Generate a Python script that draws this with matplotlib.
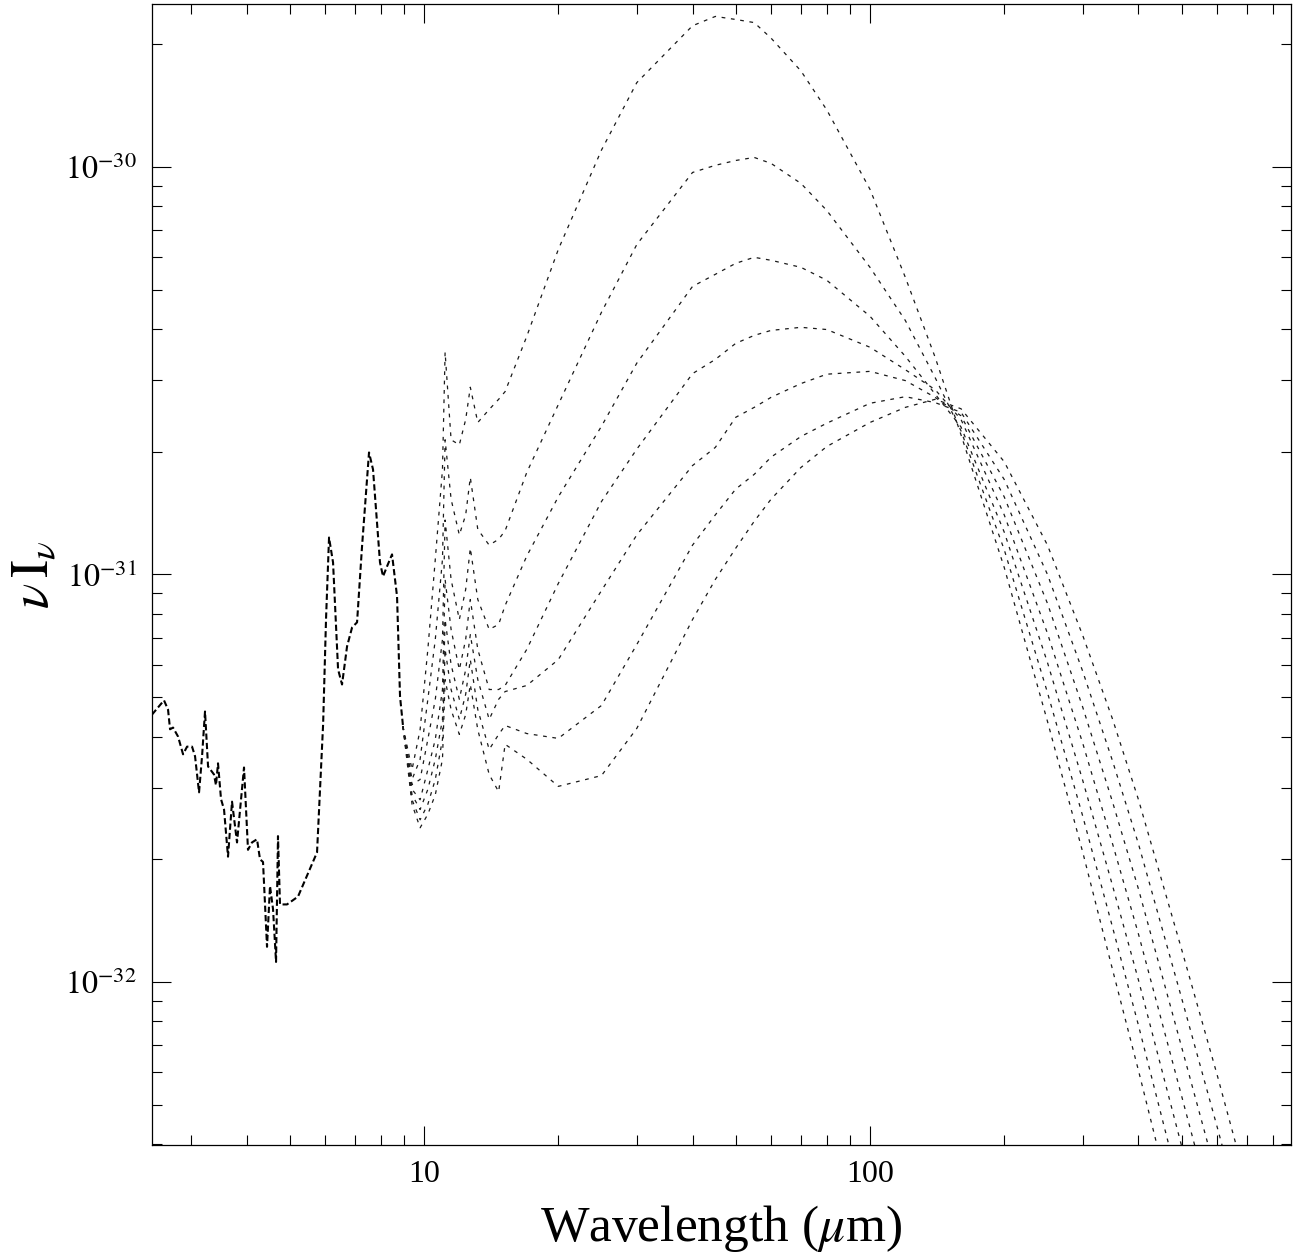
import numpy as np
import matplotlib.pyplot as plt

plt.rcParams['font.family'] = ['Liberation Serif', 'DejaVu Serif']
plt.rcParams['mathtext.fontset'] = 'stix'

UNIT = 1e-31  # fluxes below are in units of 1e-31

# shared short-wavelength spectrum (microns)
lam_short = [2.455, 2.612, 2.667, 2.695, 2.737, 2.809, 2.882, 2.942, 3.019, 3.066,
             3.130, 3.179, 3.228, 3.279, 3.381, 3.416, 3.452, 3.506, 3.561, 3.635,
             3.711, 3.808, 3.948, 4.030, 4.114, 4.222, 4.288, 4.355, 4.446, 4.515,
             4.586, 4.658, 4.705, 4.754, 4.929, 5.217, 5.756, 5.94, 6.03, 6.124,
             6.252, 6.416, 6.549, 6.721, 6.897, 7.077, 7.261, 7.528, 7.685, 7.967,
             8.093, 8.260, 8.478, 8.700, 8.835, 8.973]
flux_short = [0.453, 0.491, 0.466, 0.417, 0.421, 0.400, 0.362, 0.378, 0.378, 0.358,
              0.292, 0.358, 0.461, 0.338, 0.323, 0.304, 0.344, 0.281, 0.265, 0.203,
              0.277, 0.220, 0.336, 0.211, 0.220, 0.224, 0.200, 0.197, 0.122, 0.172,
              0.151, 0.112, 0.228, 0.155, 0.155, 0.162, 0.208, 0.43, 0.78, 1.232,
              1.070, 0.585, 0.537, 0.666, 0.741, 0.763, 1.171, 1.992, 1.810, 1.070,
              0.989, 1.046, 1.120, 0.883, 0.502, 0.424]

# model curves beyond ~9 micron
lam_long = [8.97, 9.4, 9.8, 10.2, 10.6, 11.0, 11.15, 11.5, 12.0, 12.4, 12.7, 13.2,
            14.0, 14.7, 15.2, 17, 20, 25, 30, 40, 45, 50, 55, 60, 70, 80, 100,
            120, 140, 160, 200, 250, 300, 350, 400, 500, 600, 700, 800]

model_a = [0.424, 0.332, 0.416, 0.655, 1.09, 1.81, 3.51, 2.14, 2.08, 2.40, 2.88, 2.36,
           2.54, 2.69, 2.81, 3.84, 6.27, 11.0, 16.1, 22.2, 23.4, 23.0, 22.6, 20.7, 17.2,
           13.8, 8.81, 5.36, 3.41, 2.20, 1.04, 0.436, 0.208, 0.107, 0.0606, 0.0227,
           0.0103, 0.00522, 0.00288]
model_b = [0.424, 0.314, 0.352, 0.494, 0.693, 1.09, 2.14, 1.53, 1.25, 1.40, 1.73, 1.29,
           1.18, 1.22, 1.28, 1.78, 2.61, 4.40, 6.45, 9.69, 10.09, 10.37, 10.55, 10.2,
           9.11, 7.82, 5.67, 4.20, 3.04, 2.25, 1.15, 0.513, 0.255, 0.136, 0.0782,
           0.0299, 0.0138, 0.00705, 0.00394]
model_c = [0.424, 0.305, 0.314, 0.394, 0.494, 0.693, 1.36, 0.972, 0.775, 0.919, 1.16,
           0.868, 0.733, 0.754, 0.839, 1.11, 1.55, 2.31, 3.30, 5.09, 5.45, 5.80, 6.00,
           5.90, 5.67, 5.27, 4.30, 3.43, 2.77, 2.30, 1.27, 0.608, 0.312, 0.172, 0.101,
           0.0395, 0.0184, 0.00956, 0.00537]
model_d = [0.424, 0.297, 0.280, 0.332, 0.394, 0.522, 0.972, 0.733, 0.584, 0.693, 0.868,
           0.655, 0.522, 0.522, 0.534, 0.655, 0.950, 1.51, 2.03, 3.11, 3.37, 3.69, 3.86,
           3.97, 4.04, 3.99, 3.61, 3.18, 2.84, 2.40, 1.40, 0.717, 0.385, 0.218, 0.131,
           0.0524, 0.0247, 0.0129, 0.00733]
model_e = [0.424, 0.288, 0.265, 0.297, 0.352, 0.441, 0.775, 0.601, 0.494, 0.584, 0.712,
           0.552, 0.441, 0.494, 0.516, 0.534, 0.618, 0.913, 1.25, 1.85, 2.05, 2.43, 2.57,
           2.72, 2.94, 3.10, 3.15, 2.99, 2.72, 2.45, 1.55, 0.849, 0.472, 0.276, 0.169,
           0.0691, 0.0331, 0.0174, 0.0100]
model_f = [0.424, 0.280, 0.250, 0.273, 0.314, 0.394, 0.655, 0.522, 0.441, 0.508, 0.618,
           0.466, 0.372, 0.405, 0.426, 0.407, 0.396, 0.477, 0.673, 1.18, 1.40, 1.62, 1.76,
           1.94, 2.18, 2.35, 2.63, 2.73, 2.64, 2.50, 1.71, 1.00, 0.578, 0.348, 0.218,
           0.0911, 0.0442, 0.0236, 0.0136]
model_g = [0.424, 0.273, 0.239, 0.258, 0.288, 0.352, 0.552, 0.466, 0.405, 0.453, 0.537,
           0.416, 0.323, 0.293, 0.383, 0.352, 0.302, 0.321, 0.419, 0.775, 0.972, 1.16,
           1.35, 1.53, 1.83, 2.06, 2.36, 2.57, 2.69, 2.55, 1.89, 1.18, 0.708, 0.441,
           0.280, 0.120, 0.0593, 0.0318, 0.0186]

models = [model_a, model_b, model_c, model_d, model_e, model_f, model_g]

fig = plt.figure(figsize=(12.98, 12.55), dpi=100)
ax = fig.add_axes([0.1171, 0.0876, 0.8775, 0.9092])

# shared part drawn heavier, like several overlapping curves
ax.plot(lam_short, np.array(flux_short) * UNIT, color='black', lw=1.5,
        dashes=(3, 1.5))
for m in models:
    ax.plot(lam_long, np.array(m) * UNIT, color='0.1', lw=0.9, dashes=(3, 4.5))

ax.set_xscale('log')
ax.set_yscale('log')
ax.set_xlim(2.455, 879)
ax.set_ylim(3.98e-33, 2.51e-30)

ax.set_xticks([10, 100])
ax.set_xticklabels(['10', '100'])
ax.set_yticks([1e-32, 1e-31, 1e-30])
ax.set_yticklabels([r'$10^{-32}$', r'$10^{-31}$', r'$10^{-30}$'])

ax.tick_params(which='both', direction='in', top=True, right=True, width=0.8,
               labelsize=23)
ax.tick_params(which='major', length=14, pad=11)
ax.tick_params(which='minor', length=7)
for s in ax.spines.values():
    s.set_linewidth(0.9)

ax.set_xlabel(r'Wavelength ($\mu$m)', fontsize=37, labelpad=10)
ax.set_ylabel(r'$\nu\,\mathrm{I}_\nu$', fontsize=38, labelpad=4)

plt.savefig('out.png', dpi=100)
